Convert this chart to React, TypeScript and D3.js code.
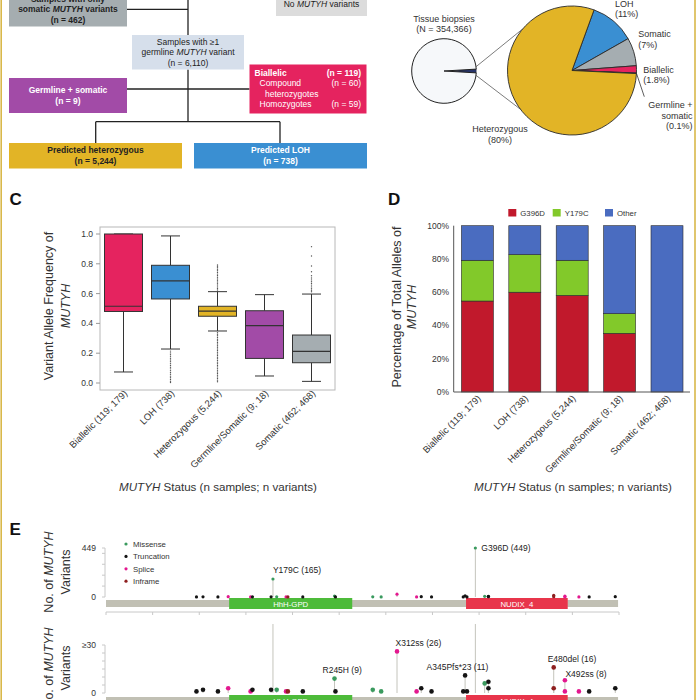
import * as d3 from "d3";

const FONT = "'Liberation Sans', Arial, Helvetica, sans-serif";
const INK = "#222";
const fmt = d3.format(",");

// ---------- A: sample flow counts
const nSomaticOnly = 462;
const nGermline = 6110;
const nGermlineSomatic = 9;
const nBiallelic = 119;
const nCompoundHet = 60;
const nHomozygous = 59;
const nHeterozygous = 5244;
const nLOH = 738;

// ---------- B: pies
const nBiopsies = 354366;
const pieGroups = ["LOH", "Somatic", "Biallelic", "Germline + somatic", "Heterozygous"];
const pieCounts = [738, 462, 119, 9, 5244];
const piePct = ["11%", "7%", "1.8%", "0.1%", "80%"];
const pieColors = ["#3a8fd2", "#a5adb1", "#e5235f", "#9f47a4", "#e2b426"];

// ---------- C: VAF box plots
const statusLabels = [
  "Biallelic (119; 179)",
  "LOH (738)",
  "Heterozygous (5,244)",
  "Germline/Somatic (9; 18)",
  "Somatic (462; 468)",
];
const statusColors = ["#e5235f", "#3a8fd2", "#e2b426", "#a24ba7", "#a5adb1"];
const vafLow = [0.074, 0.228, 0.349, 0.047, 0.011];
const vafQ1 = [0.48, 0.564, 0.448, 0.165, 0.136];
const vafMedian = [0.515, 0.686, 0.483, 0.385, 0.212];
const vafQ3 = [1.0, 0.79, 0.515, 0.485, 0.322];
const vafHigh = [1.0, 0.987, 0.613, 0.593, 0.597];
const vafOutliers: number[][] = [
  [],
  [0.214, 0.202, 0.19, 0.179, 0.166, 0.154, 0.143, 0.13, 0.118, 0.106, 0.095, 0.083, 0.07, 0.059, 0.046, 0.035, 0.024, 0.012, 0.003],
  [0.624, 0.634, 0.645, 0.657, 0.666, 0.678, 0.689, 0.698, 0.71, 0.721, 0.731, 0.742, 0.753, 0.763, 0.774, 0.784, 0.792,
   0.338, 0.327, 0.317, 0.305, 0.294, 0.284, 0.272, 0.262, 0.25, 0.24, 0.228, 0.218, 0.206, 0.195, 0.185, 0.173, 0.163,
   0.151, 0.14, 0.129, 0.118, 0.108, 0.096, 0.085, 0.074, 0.064, 0.052, 0.041, 0.03, 0.019, 0.008],
  [],
  [0.612, 0.622, 0.633, 0.645, 0.657, 0.668, 0.68, 0.692, 0.705, 0.72, 0.747, 0.785, 0.852, 0.915],
];

// ---------- D: allele share per status
const alleleKeys = ["G396D", "Y179C", "Other"];
const alleleColors = ["#c1192c", "#82c92a", "#4a6cc0"];
const shareG396D = [0.547, 0.6, 0.581, 0.353, 0];
const shareY179C = [0.245, 0.226, 0.211, 0.118, 0];
const shareOther = [0.208, 0.174, 0.208, 0.529, 1.0];

// ---------- E: MUTYH lollipop
const proteinLength = 549;
const domainNames = ["HhH-GPD", "NUDIX_4"];
const domainStart = [132, 386];
const domainEnd = [264, 495];
const domainColors = ["#4dbb3a", "#e8354b"];
const typeKeys = ["M", "T", "S", "I"];
const typeNames = ["Missense", "Truncation", "Splice", "Inframe"];
const typeColors = ["#3a9a5e", "#141414", "#e3188f", "#8e1f1f"];
const variantPos = [97, 104, 120, 131, 155, 157, 177, 179, 183, 193, 195, 211, 245, 246, 286, 295, 312, 333, 338, 349, 383, 385, 387, 396, 406, 410, 410, 480, 480, 492, 492, 507, 518, 546];
const variantCount = [1, 2, 1, 3, 1, 2, 2, 165, 2, 1, 1, 1, 9, 1, 2, 1, 26, 1, 3, 1, 1, 11, 1, 449, 6, 7, 3, 16, 3, 8, 1, 1, 1, 3];
const variantType = ["T", "T", "T", "S", "S", "T", "T", "M", "M", "S", "I", "T", "M", "T", "M", "M", "S", "S", "T", "T", "T", "T", "T", "M", "M", "T", "T", "I", "I", "S", "S", "S", "T", "T"];
const variantName = ["", "", "", "", "", "", "", "Y179C", "", "", "", "", "R245H", "", "", "", "X312ss", "", "", "", "", "A345Pfs*23", "", "G396D", "", "", "", "E480del", "", "X492ss", "", "", "", ""];

// label placement (panel 0 = full scale, 1 = zoomed)
const labelPlace: Record<string, { panel: number; dx: number; dy: number }> = {
  Y179C: { panel: 0, dx: 0, dy: -5.5 },
  G396D: { panel: 0, dx: 6, dy: 2.5 },
  R245H: { panel: 1, dx: -12, dy: -5.5 },
  X312ss: { panel: 1, dx: -1.5, dy: -5.5 },
  "A345Pfs*23": { panel: 1, dx: -38.5, dy: -5.5 },
  E480del: { panel: 1, dx: -6, dy: -5 },
  X492ss: { panel: 1, dx: 0.5, dy: -3.5 },
};

function rich(s: string) {
  return s.split("~").map((part, i) => (
    <tspan key={i} fontStyle={i % 2 ? "italic" : undefined}>
      {part}
    </tspan>
  ));
}

function FlowChart() {
  const boxes = [
    { x: 9, y: -22, w: 118, h: 48.5, fill: "#a5adb0", ink: "#1f1f1f", bold: true, top: 1.5,
      lines: ["Samples with only", "somatic ~MUTYH~ variants", `(n = ${fmt(nSomaticOnly)})`] },
    { x: 276, y: -12, w: 91, h: 28, fill: "#dcdcdc", ink: INK, bold: false, top: 7, lines: ["No ~MUTYH~ variants"] },
    { x: 132, y: 35, w: 112, h: 34.5, fill: "#d6dfeb", ink: INK, bold: false, top: 44.5,
      lines: ["Samples with ≥1", "germline ~MUTYH~ variant", `(n = ${fmt(nGermline)})`] },
    { x: 9, y: 78, w: 118, h: 35, fill: "#a24ba7", ink: "#fff", bold: true, top: 93,
      lines: ["Germline + somatic", `(n = ${fmt(nGermlineSomatic)})`] },
    { x: 9, y: 143, w: 173, h: 25.5, fill: "#e2b426", ink: INK, bold: true, top: 153,
      lines: ["Predicted heterozygous", `(n = ${fmt(nHeterozygous)})`] },
    { x: 194, y: 143, w: 173, h: 25.5, fill: "#3a8fd2", ink: "#fff", bold: true, top: 153,
      lines: ["Predicted LOH", `(n = ${fmt(nLOH)})`] },
  ];
  const biallelicRows = [
    { label: "Biallelic", n: nBiallelic, indent: 5, bold: true },
    { label: "Compound", n: nCompoundHet, indent: 10, bold: false },
    { label: "heterozygotes", n: null, indent: 15.5, bold: false },
    { label: "Homozygotes", n: nHomozygous, indent: 10, bold: false },
  ];
  const links: [number, number, number, number][] = [
    [127, 9.3, 188, 9.3],
    [188, -5, 188, 35],
    [188, 69.5, 188, 121.7],
    [127, 89, 249.5, 89],
    [95.7, 121.7, 280, 121.7],
    [95.7, 121.7, 95.7, 143],
    [280, 121.7, 280, 143],
  ];
  return (
    <g fontSize={8.5}>
      {links.map((l, i) => (
        <line key={i} x1={l[0]} y1={l[1]} x2={l[2]} y2={l[3]} stroke={INK} strokeWidth={1.3} />
      ))}
      {boxes.map((b, i) => (
        <g key={i}>
          <rect x={b.x} y={b.y} width={b.w} height={b.h} fill={b.fill} />
          {b.lines.map((t, j) => (
            <text key={j} x={b.x + b.w / 2} y={b.top + j * 10.5} textAnchor="middle" fill={b.ink}
              fontWeight={b.bold ? "bold" : "normal"}>
              {rich(t)}
            </text>
          ))}
        </g>
      ))}
      <rect x={249.5} y={64.5} width={117} height={49} fill="#e5235f" />
      {biallelicRows.map((r, j) => (
        <g key={j} fill="#fff" fontWeight={r.bold ? "bold" : "normal"}>
          <text x={249.5 + r.indent} y={75.5 + j * 10.5}>{r.label}</text>
          {r.n !== null && (
            <text x={361} y={75.5 + j * 10.5} textAnchor="end">{`(n = ${r.n})`}</text>
          )}
        </g>
      ))}
    </g>
  );
}

function Pies() {
  const small = { cx: 444, cy: 71, r: 32.3 };
  const big = { cx: 572, cy: 70.5, r: 64.5 };
  const withVariant = d3.sum(pieCounts);
  const half = Math.PI * (withVariant / nBiopsies);
  const smallArcs = d3
    .pie<number>()
    .sort(null)
    .startAngle(Math.PI / 2 - half)
    .endAngle(Math.PI / 2 - half + 2 * Math.PI)([withVariant, nBiopsies - withVariant]);
  const smallArc = d3.arc<d3.PieArcDatum<number>>().innerRadius(0).outerRadius(small.r);
  const start = (20 * Math.PI) / 180;
  const bigArcs = d3.pie<number>().sort(null).startAngle(start).endAngle(start + 2 * Math.PI)(pieCounts);
  const bigArc = d3.arc<d3.PieArcDatum<number>>().innerRadius(0).outerRadius(big.r);
  const pt = (c: { cx: number; cy: number }, r: number, a: number) => [c.cx + r * Math.sin(a), c.cy - r * Math.cos(a)];
  const deg = Math.PI / 180;
  const s1 = pt(small, small.r, 82.4 * deg);
  const s2 = pt(small, small.r, 97.7 * deg);
  const b1 = pt(big, big.r, -50 * deg);
  const b2 = pt(big, big.r, 233 * deg);
  const gs = bigArcs[3];
  const p0 = pt(big, big.r, (gs.startAngle + gs.endAngle) / 2);

  const labels = [
    { x: 615, y: 6.5, anchor: "start" },
    { x: 638.3, y: 37, anchor: "start" },
    { x: 643.3, y: 72.5, anchor: "start" },
    { x: 692.5, y: 108, anchor: "end" },
    { x: 500, y: 132, anchor: "middle" },
  ];
  const labelLines = pieGroups.map((g, i) =>
    g === "Germline + somatic" ? ["Germline +", "somatic", `(${piePct[i]})`] : [g, `(${piePct[i]})`]
  );
  return (
    <g fontSize={9} fill="#333">
      <text x={small.cx} y={21.5} textAnchor="middle">Tissue biopsies</text>
      <text x={small.cx} y={32} textAnchor="middle">{`(N = ${fmt(nBiopsies)})`}</text>
      {smallArcs.map((a, i) => (
        <path key={i} d={smallArc(a) ?? ""} transform={`translate(${small.cx},${small.cy})`}
          fill={i === 0 ? "#27346a" : "#f6f8fa"} stroke="#222" strokeWidth={i === 0 ? 0.3 : 1} />
      ))}
      <line x1={s1[0]} y1={s1[1]} x2={b1[0]} y2={b1[1]} stroke="#444" strokeWidth={0.7} />
      <line x1={s2[0]} y1={s2[1]} x2={b2[0]} y2={b2[1]} stroke="#444" strokeWidth={0.7} />
      {bigArcs.map((a, i) => (
        <path key={i} d={bigArc(a) ?? ""} transform={`translate(${big.cx},${big.cy})`}
          fill={pieColors[i]} stroke="#2a2a2a" strokeWidth={0.9} />
      ))}
      <line x1={p0[0]} y1={p0[1]} x2={644.3} y2={96.7} stroke="#333" strokeWidth={0.8} />
      {labelLines.map((lines, i) =>
        lines.map((t, j) => (
          <text key={`${i}-${j}`} x={labels[i].x} y={labels[i].y + j * 10.5} textAnchor={labels[i].anchor}>
            {t}
          </text>
        ))
      )}
    </g>
  );
}

function BoxPanel() {
  const x = d3.scaleBand<string>().domain(statusLabels).range([100, 335]);
  const y = d3.scaleLinear().domain([0, 1]).range([383, 234]);
  const bw = 38;
  const cap = 19;
  return (
    <g>
      <text x={9.5} y={205} fontSize={17} fontWeight="bold" fill="#111">C</text>
      <rect x={100} y={227} width={235} height={163} fill="none" stroke="#b8b8b8" strokeWidth={1} />
      {y.ticks(5).map((t) => (
        <g key={t}>
          <line x1={96} x2={100} y1={y(t)} y2={y(t)} stroke="#999" />
          <text x={93} y={y(t) + 3} textAnchor="end" fontSize={8.5} fill="#333">{d3.format(".1f")(t)}</text>
        </g>
      ))}
      {statusLabels.map((s, i) => {
        const c = (x(s) ?? 0) + x.bandwidth() / 2;
        return (
          <g key={s} stroke="#333" strokeWidth={1}>
            <line x1={c} x2={c} y1={y(vafLow[i])} y2={y(vafQ1[i])} />
            <line x1={c} x2={c} y1={y(vafQ3[i])} y2={y(vafHigh[i])} />
            <line x1={c - cap / 2} x2={c + cap / 2} y1={y(vafLow[i])} y2={y(vafLow[i])} />
            <line x1={c - cap / 2} x2={c + cap / 2} y1={y(vafHigh[i])} y2={y(vafHigh[i])} />
            <rect x={c - bw / 2} y={y(vafQ3[i])} width={bw} height={y(vafQ1[i]) - y(vafQ3[i])} fill={statusColors[i]} />
            <line x1={c - bw / 2} x2={c + bw / 2} y1={y(vafMedian[i])} y2={y(vafMedian[i])} strokeWidth={1.2} />
            {vafOutliers[i].map((v, k) => (
              <circle key={k} cx={c} cy={y(v)} r={0.7} fill="#555" stroke="none" />
            ))}
          </g>
        );
      })}
      {statusLabels.map((s) => {
        const c = (x(s) ?? 0) + x.bandwidth() / 2;
        return (
          <text key={s} transform={`translate(${c + 4.5},${394}) rotate(-45)`} textAnchor="end" fontSize={9.5} fill="#333">
            {s}
          </text>
        );
      })}
      <text transform="translate(53,306) rotate(-90)" textAnchor="middle" fontSize={12.5} fill="#333">
        Variant Allele Frequency of
      </text>
      <text transform="translate(70,306) rotate(-90)" textAnchor="middle" fontSize={12.5} fill="#333" fontStyle="italic">
        MUTYH
      </text>
      <text x={218} y={491} textAnchor="middle" fontSize={11.6} fill="#333">
        {rich("~MUTYH~ Status (n samples; n variants)")}
      </text>
    </g>
  );
}

function BarPanel() {
  const x = d3.scaleBand<string>().domain(statusLabels).range([453.7, 690.7]);
  const y = d3.scaleLinear().domain([0, 1]).range([392, 225.7]);
  const rows = statusLabels.map((s, i) => ({ status: s, G396D: shareG396D[i], Y179C: shareY179C[i], Other: shareOther[i] }));
  const series = d3.stack<any>().keys(alleleKeys)(rows);
  const bw = 32;
  const legendX = [508.3, 552.7, 605];
  return (
    <g>
      <text x={388} y={205} fontSize={17} fontWeight="bold" fill="#111">D</text>
      {alleleKeys.map((k, i) => (
        <g key={k}>
          <rect x={legendX[i]} y={209} width={8} height={7.5} fill={alleleColors[i]} />
          <text x={legendX[i] + 12} y={215.5} fontSize={7.8} fill="#333">{k}</text>
        </g>
      ))}
      {series.map((ser, si) =>
        ser.map((d, i) => {
          const c = (x(statusLabels[i]) ?? 0) + x.bandwidth() / 2;
          if (d[1] - d[0] <= 0) return null;
          return (
            <rect key={`${si}-${i}`} x={c - bw / 2} y={y(d[1])} width={bw} height={y(d[0]) - y(d[1])}
              fill={alleleColors[si]} stroke="#2a2a2a" strokeWidth={0.6} />
          );
        })
      )}
      <line x1={453.7} x2={453.7} y1={y(0)} y2={y(1)} stroke="#555" strokeWidth={1} />
      <line x1={453.7} x2={690} y1={y(0)} y2={y(0)} stroke="#555" strokeWidth={1} />
      {y.ticks(5).map((t) => (
        <text key={t} x={449} y={y(t) + 3} textAnchor="end" fontSize={8.5} fill="#333">{d3.format(".0%")(t)}</text>
      ))}
      {statusLabels.map((s) => {
        const c = (x(s) ?? 0) + x.bandwidth() / 2;
        return (
          <text key={s} transform={`translate(${c + 4},${399}) rotate(-45)`} textAnchor="end" fontSize={9.5} fill="#333">
            {s}
          </text>
        );
      })}
      <text transform="translate(401,307) rotate(-90)" textAnchor="middle" fontSize={12.5} fill="#333">
        Percentage of Total Alleles of
      </text>
      <text transform="translate(415.5,307) rotate(-90)" textAnchor="middle" fontSize={12.5} fill="#333" fontStyle="italic">
        MUTYH
      </text>
      <text x={573} y={491} textAnchor="middle" fontSize={11.6} fill="#333">
        {rich("~MUTYH~ Status (n samples; n variants)")}
      </text>
    </g>
  );
}

function Lollipops() {
  const ax = d3.scaleLinear().domain([0, 550]).range([106, 619]);
  const panels = [
    { y: d3.scaleLinear().domain([0, 449]).range([597, 548]), max: 449, ticks: [0, 100, 200, 300, 400, 449],
      tickText: ["0", "", "", "", "", "449"], r: 1.6, shift: 0, mid: 572 },
    { y: d3.scaleLinear().domain([0, 30]).range([693, 645]), max: 30, ticks: d3.range(0, 31, 5),
      tickText: ["0", "", "", "", "", "", "≥30"], r: 2.3, shift: 97, mid: 668 },
  ];
  const color = (t: string) => typeColors[typeKeys.indexOf(t)];
  return (
    <g>
      <text x={9.5} y={535} fontSize={17} fontWeight="bold" fill="#111">E</text>
      {typeNames.map((n, i) => (
        <g key={n}>
          <circle cx={126} cy={544 + i * 12.4} r={1.6} fill={typeColors[i]} />
          <text x={133} y={547 + i * 12.4} fontSize={7.8} fill="#333">{n}</text>
        </g>
      ))}
      {panels.map((p, pi) => {
        const overflowTop = p.y(p.max) - 21;
        return (
          <g key={pi}>
            <text transform={`translate(53,${p.mid}) rotate(-90)`} textAnchor="middle" fontSize={12.5} fill="#333">
              {rich("No. of ~MUTYH~")}
            </text>
            <text transform={`translate(70,${p.mid}) rotate(-90)`} textAnchor="middle" fontSize={12.5} fill="#333">
              Variants
            </text>
            <line x1={105} x2={105} y1={p.y(p.max)} y2={p.y(0)} stroke="#c8c8c8" />
            {p.ticks.map((t, k) => (
              <g key={k}>
                <line x1={102} x2={105} y1={p.y(t)} y2={p.y(t)} stroke="#c8c8c8" />
                {p.tickText[k] && (
                  <text x={96} y={p.y(t) + 3} textAnchor="end" fontSize={8.5} fill="#333">{p.tickText[k]}</text>
                )}
              </g>
            ))}
            <rect x={ax(0)} y={600 + p.shift} width={ax(proteinLength) - ax(0)} height={7} fill="#c1c0b4" />
            {domainNames.map((d, i) => (
              <g key={d}>
                <rect x={ax(domainStart[i])} y={598 + p.shift} width={ax(domainEnd[i]) - ax(domainStart[i])} height={11}
                  fill={domainColors[i]} />
                <text x={(ax(domainStart[i]) + ax(domainEnd[i])) / 2} y={606.5 + p.shift} textAnchor="middle"
                  fontSize={7.8} fill="#fff">{d}</text>
              </g>
            ))}
            <line x1={ax(0)} x2={ax(550)} y1={612 + p.shift} y2={612 + p.shift} stroke="#c8c8c8" />
            {d3.range(0, 551, 50).map((t) => (
              <line key={t} x1={ax(t)} x2={ax(t)} y1={612 + p.shift} y2={615 + p.shift} stroke="#c8c8c8" />
            ))}
            {variantPos.map((pos, i) => {
              const over = variantCount[i] > p.max;
              const yTop = over ? overflowTop : p.y(variantCount[i]);
              return <line key={i} x1={ax(pos)} x2={ax(pos)} y1={p.y(0)} y2={yTop} stroke="#c4c4bc" strokeWidth={1} />;
            })}
            {variantPos.map((pos, i) =>
              variantCount[i] > p.max ? null : (
                <circle key={i} cx={ax(pos)} cy={p.y(variantCount[i])} r={p.r} fill={color(variantType[i])} />
              )
            )}
            {variantPos.map((pos, i) => {
              const name = variantName[i];
              const place = name ? labelPlace[name] : null;
              if (!place || place.panel !== pi) return null;
              return (
                <text key={i} x={ax(pos) + place.dx} y={p.y(variantCount[i]) + place.dy} fontSize={8.5} fill="#222">
                  {`${name} (${variantCount[i]})`}
                </text>
              );
            })}
          </g>
        );
      })}
    </g>
  );
}

export default function App() {
  return (
    <svg width={700} height={700} viewBox="0 0 700 700" fontFamily={FONT}
      style={{ position: "absolute", left: 0, top: 0, background: "#fff" }}>
      <rect width={700} height={700} fill="#fff" />
      <FlowChart />
      <Pies />
      <BoxPanel />
      <BarPanel />
      <Lollipops />
      <line x1={1.2} x2={1.2} y1={0} y2={700} stroke="#d9b84a" strokeWidth={1.6} />
      <line x1={695} x2={695} y1={0} y2={700} stroke="#d9b84a" strokeWidth={1.6} />
    </svg>
  );
}
